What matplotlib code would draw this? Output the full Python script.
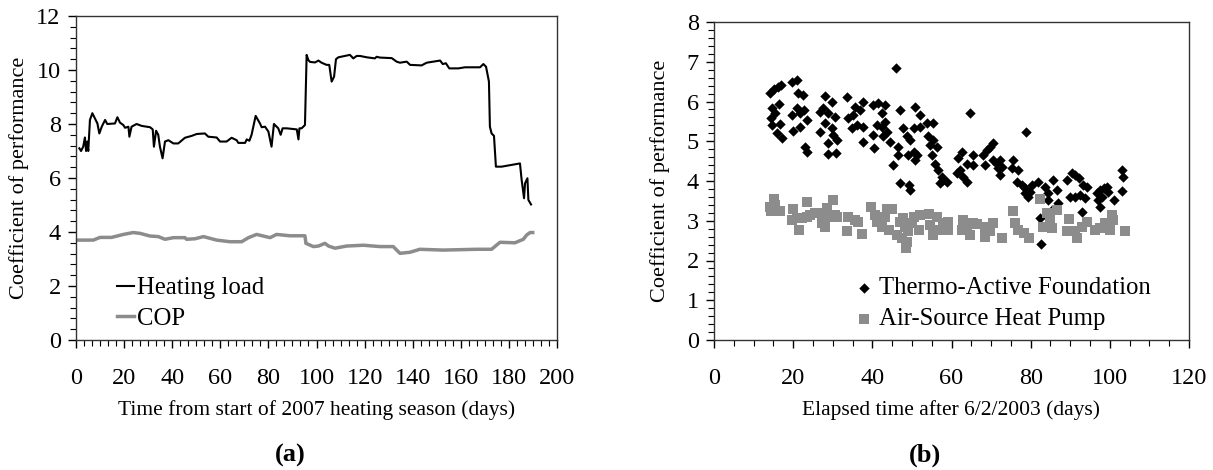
import matplotlib.pyplot as plt
from matplotlib.ticker import MultipleLocator, AutoMinorLocator

plt.rcParams['font.family'] = ['Liberation Serif', 'DejaVu Serif']

# (a) heating load and COP over the 2007 heating season
load_days = [1.4, 2.1, 3.0, 3.7, 4.2, 4.7, 5.1, 5.8, 6.8, 7.9, 8.9, 9.7, 10.7, 12.1, 13.0,
             16.2, 17.2, 18.3, 19.7, 20.4, 21.8, 22.2, 23.1, 25.2, 27.3, 30.8, 31.9, 32.4,
             33.3, 34.2, 34.9, 36.0, 37.0, 38.4, 40.5, 42.5, 45.3, 48.1, 50.2, 53.6, 55.0,
             58.5, 59.9, 62.6, 64.7, 66.8, 67.5, 70.3, 71.0, 72.1, 73.0, 74.7, 76.5, 77.2,
             78.6, 80.0, 81.3, 82.3, 84.1, 85.1, 85.9, 87.6, 91.8, 92.5, 92.9, 93.8, 95.2,
             95.9, 96.6, 97.3, 99.4, 100.8, 102.1, 104.2, 105.3, 106.3, 107.3, 108.1, 109.1,
             113.9, 115.3, 116.7, 118.1, 120.9, 124.3, 125.0, 126.4, 131.3, 133.3, 134.7,
             137.5, 138.9, 143.7, 145.8, 151.4, 152.5, 153.8, 155.2, 159.0, 161.7, 168.0,
             169.4, 170.5, 171.7, 172.1, 172.8, 173.8, 174.6, 177.0, 184.6, 185.3, 186.3,
             186.7, 187.7, 188.1, 189.2]
load_vals = [7.1, 7.0, 7.16, 7.5, 7.0, 7.35, 7.0, 8.15, 8.4, 8.2, 8.02, 7.65, 7.9, 8.15, 8.0,
             8.02, 8.25, 8.05, 7.96, 7.86, 7.9, 7.53, 7.9, 8.0, 7.93, 7.88, 7.8, 7.16,
             7.75, 7.6, 7.16, 6.73, 7.35, 7.4, 7.28, 7.28, 7.49, 7.56, 7.63, 7.65, 7.53,
             7.5, 7.35, 7.35, 7.49, 7.4, 7.3, 7.3, 7.43, 7.38, 7.6, 8.3, 8.02, 7.88,
             7.9, 7.72, 7.16, 8.0, 7.84, 7.6, 7.84, 7.84, 7.8, 7.43, 7.84, 7.84, 7.96,
             10.56, 10.37, 10.3, 10.28, 10.35, 10.27, 10.19, 10.19, 9.57, 9.75, 10.4, 10.47,
             10.56, 10.43, 10.52, 10.52, 10.47, 10.43, 10.49, 10.46, 10.44, 10.31, 10.27,
             10.31, 10.19, 10.17, 10.27, 10.35, 10.22, 10.25, 10.06, 10.06, 10.1, 10.1,
             10.22, 10.12, 9.57, 7.9, 7.65, 7.56, 6.42, 6.42, 6.54, 5.93, 5.25,
             5.8, 5.99, 5.19, 5.02]

cop_days = [1.0, 7.2, 10.0, 14.8, 19.7, 23.8, 26.6, 30.8, 34.2, 37.0, 40.5, 45.3, 46.0, 49.5,
            53.0, 58.5, 64.0, 68.9, 71.7, 75.1, 80.7, 83.4, 89.0, 95.2, 95.6, 98.7, 100.8,
            103.5, 105.0, 107.7, 112.5, 119.5, 126.4, 131.9, 134.7, 138.9, 143.0, 152.7,
            166.6, 172.8, 176.3, 182.5, 186.0, 187.4, 188.8, 189.9]
cop_vals = [3.70, 3.70, 3.80, 3.80, 3.91, 3.98, 3.95, 3.85, 3.83, 3.73, 3.79, 3.79, 3.73, 3.75,
            3.83, 3.70, 3.64, 3.64, 3.79, 3.91, 3.79, 3.91, 3.86, 3.86, 3.58, 3.46, 3.48,
            3.58, 3.48, 3.40, 3.48, 3.51, 3.46, 3.46, 3.21, 3.25, 3.36, 3.33,
            3.36, 3.36, 3.62, 3.60, 3.73, 3.89, 3.98, 3.98]

# (b) measured COP, thermo-active foundation vs air-source heat pump
taf_days = [14.1, 15.2, 16.1, 16.8, 14.6, 16.3, 15.4, 14.3, 14.6, 16.7, 16.0, 17.1, 19.6, 20.9,
            21.3, 22.6, 19.6, 20.9, 21.7, 22.7, 20.0, 21.7, 23.6, 23.0, 23.4, 28.0, 29.7,
            26.8, 27.6, 28.9, 30.6, 26.8, 28.0, 29.7, 30.1, 28.9, 31.0, 28.9, 30.8, 33.5,
            35.6, 37.7, 33.9, 35.2, 36.9, 34.8, 36.0, 37.7, 37.7, 40.2, 41.5, 43.2, 42.4,
            40.2, 41.1, 42.4, 43.2, 43.6, 42.8, 44.5, 40.4, 46.0, 47.0, 47.8, 46.6, 46.6,
            48.7, 49.5, 45.1, 47.0, 49.3, 49.5, 50.4, 50.8, 52.0, 52.0, 50.4, 50.8, 49.1,
            51.2, 53.7, 55.4, 54.1, 55.4, 54.6, 56.3, 55.0, 55.8, 56.7, 57.5, 57.1, 58.8,
            57.9, 64.7, 62.6, 61.7, 63.8, 61.3, 62.1, 63.8, 63.0, 65.5, 65.5, 68.0, 68.9,
            69.7, 70.6, 68.5, 70.6, 71.4, 72.3, 71.8, 72.3, 72.7, 75.6, 75.2, 76.9, 78.8,
            76.5, 77.8, 78.6, 79.4, 79.8, 80.3, 78.6, 81.9, 82.4, 82.5, 83.6, 84.5, 84.5,
            85.7, 86.6, 87.0, 85.3, 89.1, 90.4, 91.2, 92.1, 90.0, 91.2, 92.4, 93.3, 94.2,
            93.7, 92.9, 96.7, 97.1, 97.5, 97.9, 98.4, 99.2, 99.6, 97.5, 101.1, 103.0, 103.4,
            103.0]
taf_vals = [6.21, 6.31, 6.36, 6.42, 5.83, 5.94, 5.70, 5.58, 5.41, 5.43, 5.20, 5.07, 6.50, 6.54,
            6.21, 6.16, 5.66, 5.83, 5.70, 5.79, 5.26, 5.37, 5.53, 4.86, 4.74, 6.14, 6.00,
            5.74, 5.83, 5.70, 5.62, 5.24, 5.45, 5.33, 5.16, 4.95, 5.03, 4.68, 4.70, 6.12,
            5.87, 6.00, 5.58, 5.66, 5.79, 5.33, 5.41, 5.37, 4.99, 5.91, 5.95, 5.91, 5.70,
            5.16, 5.41, 5.37, 5.49, 5.24, 5.12, 4.99, 4.82, 6.85, 5.79, 5.33, 4.86, 4.65,
            5.12, 5.03, 4.39, 3.96, 3.90, 3.77, 5.33, 5.87, 5.66, 5.37, 4.74, 4.53, 4.65,
            4.65, 5.47, 5.45, 5.12, 5.03, 4.91, 4.86, 4.65, 4.44, 4.28, 4.11, 3.94, 3.98,
            4.03, 5.70, 4.74, 4.57, 4.44, 4.19, 4.28, 3.98, 4.11, 4.65, 4.40, 4.65, 4.78,
            4.86, 4.96, 4.40, 4.53, 4.44, 4.53, 4.32, 4.15, 4.36, 4.53, 4.32, 4.28, 5.24,
            3.98, 3.90, 3.69, 3.61, 3.73, 3.90, 3.82, 3.98, 3.06, 2.42, 3.86, 3.69, 3.52,
            4.03, 3.77, 3.45, 3.27, 4.03, 4.19, 4.15, 4.07, 3.61, 3.61, 3.65, 3.90, 3.86,
            3.56, 3.21, 3.69, 3.52, 3.77, 3.61, 3.82, 3.86, 3.73, 3.35, 3.51, 4.28, 4.11,
            3.76]

ashp_days = [14.1, 15.2, 15.4, 14.3, 16.7, 15.7, 19.9, 19.6, 20.9, 21.5, 22.2, 23.6, 23.4, 24.3,
             25.5, 26.8, 27.2, 28.5, 28.9, 30.1, 30.6, 28.0, 31.0, 33.9, 35.6, 36.5, 33.5,
             37.3, 39.7, 40.7, 41.1, 42.4, 43.6, 44.9, 43.2, 44.3, 46.2, 47.4, 48.5, 48.7,
             49.1, 49.9, 50.4, 51.7, 52.0, 47.0, 48.2, 47.8, 54.3, 54.5, 55.4, 56.4, 57.1,
             57.9, 59.2, 59.2, 63.0, 62.6, 63.8, 64.7, 65.5, 66.4, 68.5, 68.5, 69.7, 70.6,
             72.7, 75.6, 76.1, 76.9, 78.2, 79.7, 82.4, 84.0, 84.9, 85.3, 86.6, 83.2, 89.1,
             89.8, 91.2, 91.6, 92.9, 94.2, 96.3, 97.5, 98.8, 99.6, 100.5, 100.9, 100.1, 103.8]
ashp_vals = [3.35, 3.55, 3.40, 3.25, 3.25, 3.25, 3.29, 3.02, 3.06, 2.77, 3.06, 3.48, 3.10, 3.14,
             3.19, 3.19, 2.94, 3.31, 3.10, 3.52, 3.14, 2.85, 3.09, 3.10, 3.02, 2.96, 2.73,
             2.67, 3.35, 3.14, 2.98, 2.85, 3.29, 3.29, 3.10, 2.77, 2.64, 2.56, 2.31, 2.47,
             2.73, 2.94, 3.10, 2.77, 3.14, 2.98, 2.85, 3.06, 3.17, 2.89, 2.64, 3.10, 2.77,
             2.94, 2.98, 2.77, 3.02, 2.77, 2.81, 2.64, 2.95, 2.92, 2.85, 2.58, 2.73, 2.94,
             2.56, 3.25, 2.94, 2.77, 2.68, 2.56, 3.54, 3.19, 3.02, 2.81, 3.27, 2.85, 2.73,
             3.04, 2.73, 2.56, 2.85, 2.98, 2.77, 2.81, 2.94, 2.85, 3.14, 3.02, 2.77, 2.73]

W, H = 1213, 470
fig = plt.figure(figsize=(W / 100, H / 100), dpi=100)
ax1 = fig.add_axes([76 / W, 130 / H, 481 / W, 324 / H])
ax2 = fig.add_axes([714 / W, 130 / H, 475 / W, 318 / H])

fs_tick = 17.5
fs_xlab = 15.5
fs_ylab = 16
fs_leg = 17.8

"""Panel (a)"""
ax1.plot(load_days, load_vals, color='black', lw=1.5, label='Heating load')
ax1.plot(cop_days, cop_vals, color='#8c8c8c', lw=2.5, label='COP')
ax1.set_xlim(0, 200)
ax1.set_ylim(0, 12)
ax1.xaxis.set_major_locator(MultipleLocator(20))
ax1.xaxis.set_minor_locator(AutoMinorLocator(6))
ax1.yaxis.set_major_locator(MultipleLocator(2))
ax1.yaxis.set_minor_locator(AutoMinorLocator(5))
ax1.set_xlabel('Time from start of 2007 heating season (days)', fontsize=fs_xlab, labelpad=8)
ax1.set_ylabel('Coefficient of performance', fontsize=fs_ylab, labelpad=5)
leg1 = ax1.legend(loc='lower left', bbox_to_anchor=(0.065, 0.0), frameon=False, fontsize=fs_leg,
                  handlelength=0.7, handletextpad=0.1, labelspacing=0.35, borderaxespad=0)

"""Panel (b)"""
ax2.scatter(taf_days, taf_vals, marker='D', s=28, color='black', lw=0,
            label='Thermo-Active Foundation')
ax2.scatter(ashp_days, ashp_vals, marker='s', s=50, color='#8c8c8c', lw=0,
            label='Air-Source Heat Pump')
ax2.set_xlim(0, 120)
ax2.set_ylim(0, 8)
ax2.xaxis.set_major_locator(MultipleLocator(20))
ax2.xaxis.set_minor_locator(AutoMinorLocator(4))
ax2.yaxis.set_major_locator(MultipleLocator(1))
ax2.yaxis.set_minor_locator(AutoMinorLocator(5))
ax2.set_xlabel('Elapsed time after 6/2/2003 (days)', fontsize=fs_xlab, labelpad=8)
ax2.set_ylabel('Coefficient of performance', fontsize=fs_ylab, labelpad=12)
leg2 = ax2.legend(loc='lower left', bbox_to_anchor=(0.28, 0.0), frameon=False, fontsize=fs_leg,
                  handlelength=0.6, handletextpad=0.3, labelspacing=0.35, borderaxespad=0,
                  scatterpoints=1)

for ax in (ax1, ax2):
    ax.tick_params(axis='x', which='major', direction='out', length=6, width=1,
                   labelsize=fs_tick, pad=14)
    ax.tick_params(axis='y', which='major', direction='out', length=6, width=1,
                   labelsize=fs_tick, pad=5)
    ax.tick_params(axis='both', which='minor', direction='out', length=4, width=0.8)
    for sp in ax.spines.values():
        sp.set_linewidth(1)
        sp.set_color('#333333')

fig.text(290 / W, 1 - 455 / H, '(a)', ha='center', va='center', fontsize=19, fontweight='bold')
fig.text(925 / W, 1 - 455 / H, '(b)', ha='center', va='center', fontsize=19, fontweight='bold')

fig.savefig('out.png', dpi=100)
